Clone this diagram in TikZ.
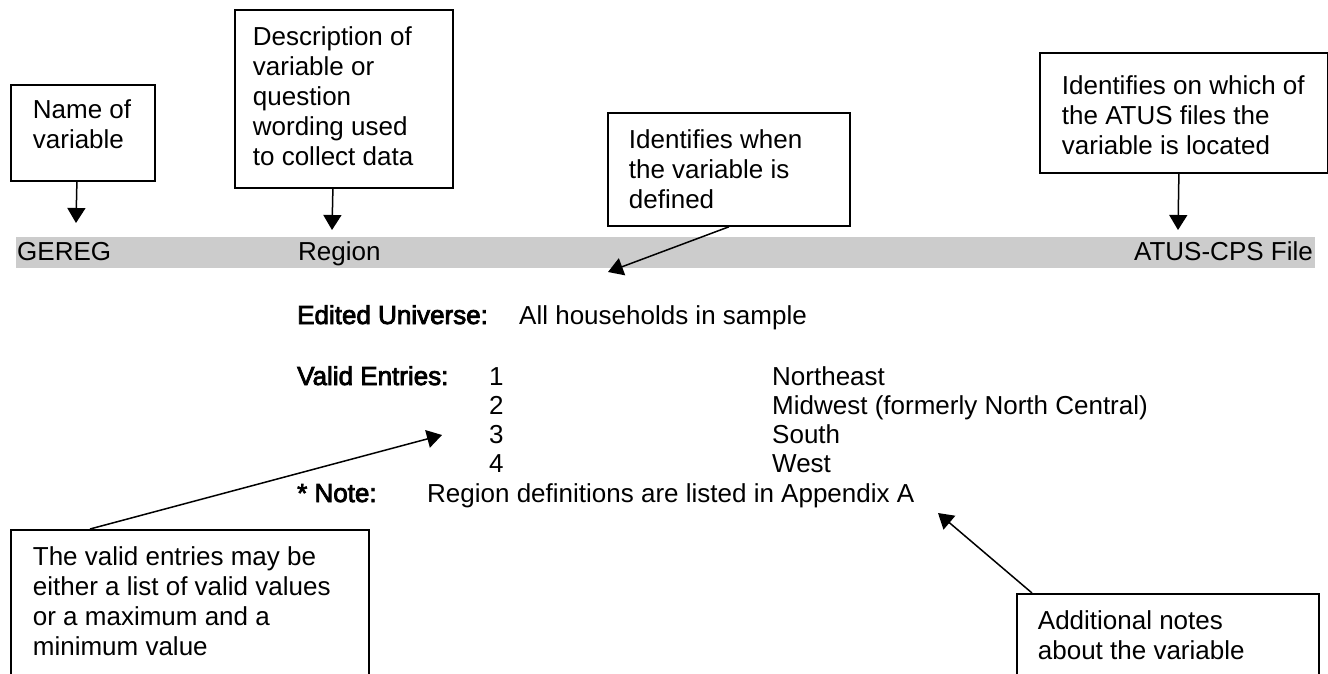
\documentclass[tikz,border=0pt]{standalone}
\usepackage{fontspec}
\setmainfont{Liberation Sans}
\newfontfamily\fakebold[FakeBold=3]{Liberation Sans}
\usetikzlibrary{arrows.meta}
\newcommand\myfs{\fontsize{26}{30}\selectfont}
\definecolor{barfill}{RGB}{204,204,204}
\tikzset{
  lbl/.style={anchor=base west, inner sep=0pt, font=\myfs},
  lble/.style={anchor=base east, inner sep=0pt, font=\myfs},
  hdr/.style={anchor=base west, inner sep=0pt, font=\myfs\fakebold},
  callout/.style={draw, line width=1.8pt, anchor=north west, inner sep=0pt, font=\myfs},
  ptr/.style={line width=1.5pt, -{Triangle[length=15pt,width=18pt]}},
  bar/.style={fill=barfill, anchor=north west, inner sep=0pt},
}
\begin{document}
\begin{tikzpicture}[x=1pt,y=-1pt]
\useasboundingbox (0,0) rectangle (1328,673);
\clip (0,0) rectangle (1328,673);
\fill[white] (0,0) rectangle (1328,673);
% header bar
\node[bar, minimum width=1299pt, minimum height=31pt] (bar) at (16,237) {};
\node[lbl] (gereg) at (17,260) {GEREG};
\node[lbl] (region) at (298,260) {Region};
\node[lble] (file) at (1313,260) {ATUS-CPS File};
% body
\node[hdr] (eu) at (297,324) {Edited Universe:};
\node[lbl] (euv) at (519,324) {All households in sample};
\node[hdr] (ve) at (297,385) {Valid Entries:};
\node[lbl] (n1) at (489,385) {1};
\node[lbl] (n2) at (489,414) {2};
\node[lbl] (n3) at (489,443) {3};
\node[lbl] (n4) at (489,472) {4};
\node[lbl] (d1) at (772,385) {Northeast};
\node[lbl] (d2) at (772,414) {Midwest (formerly North Central)};
\node[lbl] (d3) at (772,443) {South};
\node[lbl] (d4) at (772,472) {West};
\node[hdr] (note) at (297,502) {* Note:};
\node[lbl] (notev) at (427,502) {Region definitions are listed in Appendix A};
% callouts
\node[callout] (name) at (10,84) {\parbox[c][96pt][t]{144pt}{\raggedright\leftskip=22pt\relax\rule{0pt}{34pt}Name of\\variable}};
\node[callout] (desc) at (234,9) {\parbox[c][178pt][t]{218pt}{\raggedright\leftskip=18pt\relax\rule{0pt}{36pt}Description of\\variable or\\question\\wording used\\to collect data}};
\node[callout] (when) at (607,112) {\parbox[c][113pt][t]{242pt}{\raggedright\leftskip=21pt\relax\rule{0pt}{36pt}Identifies when\\the variable is\\defined}};
\node[callout] (atus) at (1039,52) {\parbox[c][120pt][t]{288pt}{\raggedright\leftskip=22pt\relax\rule{0pt}{42pt}Identifies on which of\\the ATUS files the\\variable is located}};
\node[callout] (valid) at (10,529) {\parbox[c][170pt][t]{358pt}{\raggedright\leftskip=22pt\relax\rule{0pt}{36pt}The valid entries may be\\either a list of valid values\\or a maximum and a\\minimum value}};
\node[callout] (addl) at (1016,593) {\parbox[c][110pt][t]{302pt}{\raggedright\leftskip=21pt\relax\rule{0pt}{36pt}Additional notes\\about the variable}};
% arrow tips
\coordinate (t-name) at (76,223);
\coordinate (t-desc) at (332,230);
\coordinate (t-when) at (608,272);
\coordinate (t-atus) at (1178,230);
\coordinate (t-valid) at (442,435);
\coordinate (t-addl) at (938,513);
% connectors
\draw[ptr] ([xshift=-6pt]name.south) -- (t-name);
\draw[ptr] ([xshift=-11pt]desc.south) -- (t-desc);
\draw[ptr] (when.south) -- (t-when);
\draw[ptr] ([xshift=-5pt]atus.south) -- (t-atus);
\draw[ptr] ([xshift=80pt]valid.north west) -- (t-valid);
\draw[ptr] ([xshift=16pt]addl.north west) -- (t-addl);
\end{tikzpicture}
\end{document}
